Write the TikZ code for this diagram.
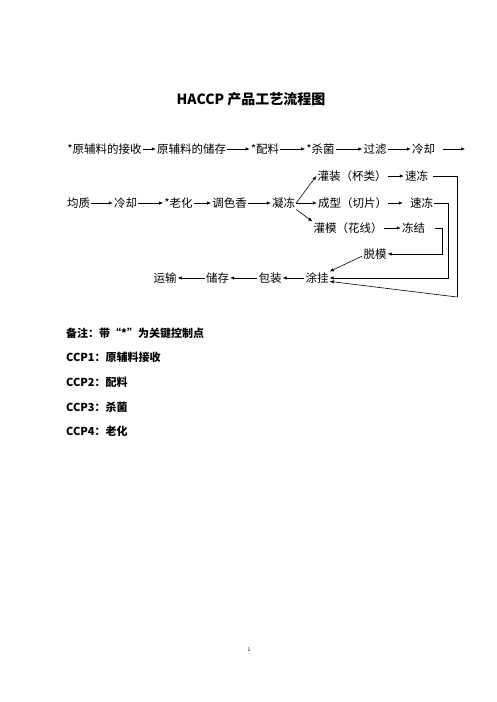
\documentclass[tikz,border=0pt]{standalone}
\usepackage{fontspec}
\setmainfont{Noto Sans CJK SC}
\usetikzlibrary{arrows.meta}
\tikzset{
  step text/.style={inner sep=1pt, font=\fontsize{11.5}{12}\selectfont},
  note text/.style={anchor=west, inner sep=0pt, font=\bfseries\fontsize{11}{12}\selectfont},
  flow/.style={line width=0.6pt, -{Latex[length=4pt,width=3.5pt]}},
  plain/.style={line width=0.6pt}
}
\begin{document}
\begin{tikzpicture}[x=1pt, y=-1pt]
    \useasboundingbox (0,0) rectangle (496,702);
    \fill[white] (0,0) rectangle (496,702);
    % title
    \node [font=\bfseries\fontsize{14}{16}\selectfont] (title) at (251, 99) {HACCP 产品工艺流程图};
    % first row
    \foreach \n/\x/\t in {s1/104.5/*原辅料的接收, s2/191.5/原辅料的储存, s3/265/*配料,
                          s4/320.5/*杀菌, s5/375/过滤, s6/423.5/冷却} {
      \node [step text] (\n) at (\x, 149) {\t};
    }
    \foreach \a/\b in {s1/s2, s2/s3, s3/s4, s4/s5, s5/s6} {
      \draw [flow] (\a) -- (\b);
    }
    \coordinate (e1) at (443, 149);
    \coordinate (e2) at (465, 149);
    \draw [flow] (e1) -- (e2);
    % second row
    \foreach \n/\x/\t in {r1/78.5/均质, r2/125.5/冷却, r3/178.5/*老化, r4/229.5/调色香, r5/283.5/凝冻} {
      \node [step text] (\n) at (\x, 203) {\t};
    }
    \foreach \a/\b in {r1/r2, r2/r3, r3/r4, r4/r5} {
      \draw [flow] (\a) -- (\b);
    }
    % branches
    \node [step text] (b1) at (352, 176) {灌装（杯类）};
    \node [step text] (f1) at (416.5, 176) {速冻};
    \node [step text] (b2) at (352.5, 203) {成型（切片）};
    \node [step text] (f2) at (421.5, 203) {速冻};
    \node [step text] (b3) at (348, 228) {灌模（花线）};
    \node [step text] (f3) at (413.5, 228) {冻结};
    \node [step text] (tm) at (375, 254) {脱模};
    % last row
    \foreach \n/\x/\t in {tg/317/涂挂, bz/270/包装, cc/217.5/储存, ys/165/运输} {
      \node [step text] (\n) at (\x, 278) {\t};
    }
    \foreach \a/\b in {tg/bz, bz/cc, cc/ys} {
      \draw [flow] (\a) -- (\b);
    }
    \draw [flow] (r5.east) -- (b1.west);
    \draw [flow] (r5) -- (b2);
    \draw [flow] (r5.south east) -- (b3.north west);
    \draw [flow] (b1) -- (f1);
    \draw [flow] (b2.east) -- ([xshift=-6pt]f2.west);
    \draw [flow] (b3) -- (f3);
    % return lines
    \coordinate (k1) at (433, 176);
    \coordinate (k2) at (457, 176);
    \coordinate (k3) at (457, 297);
    \draw [plain] (k1) -- (k2) -- (k3);
    \draw [flow] (k3) -- (tg.-15);
    \coordinate (k4) at (448, 203);
    \draw [flow] (f2.east) -- (k4) |- (tg.east);
    \coordinate (k5) at (435, 228);
    \coordinate (k6) at (442, 228);
    \draw [plain] (k5) -- (k6);
    \draw [flow] (k6) |- (tm.east);
    \draw [flow] ([yshift=-2pt]tm.west) -- (tg.north east);
    % notes
    \foreach \y/\t in {333/备注：带“*”为关键控制点, 357/CCP1：原辅料接收, 382/CCP2：配料,
                       407/CCP3：杀菌, 431/CCP4：老化} {
      \node [note text] at (66, \y) {\t};
    }
    \node [font=\fontsize{5}{6}\selectfont, inner sep=0pt] (pg) at (249, 650) {1};
\end{tikzpicture}
\end{document}
